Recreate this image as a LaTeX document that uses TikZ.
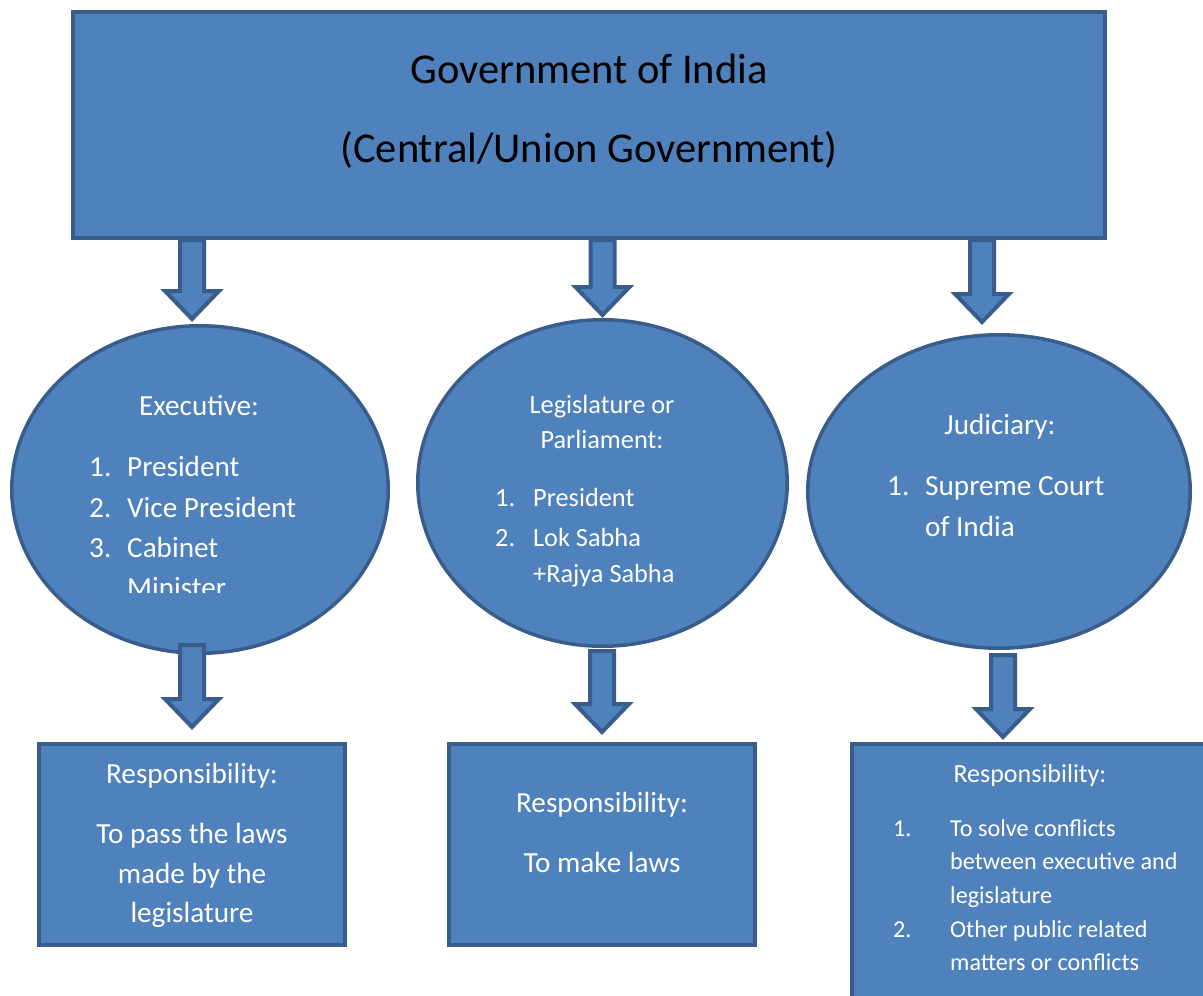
\documentclass[tikz,border=0pt]{standalone}
\usepackage{fontspec}
\setmainfont{Carlito}
\usetikzlibrary{shapes.geometric,calc}
\definecolor{Fill}{RGB}{79,129,189}
\definecolor{Edge}{RGB}{56,93,138}
\tikzset{
  panel/.style={draw=Edge,fill=Fill,line width=4pt,inner sep=0pt},
  oval/.style={ellipse,draw=Edge,fill=Fill,line width=3.5pt,inner sep=0pt},
  txt/.style={text=white,inner sep=0pt,anchor=base,font=\fontsize{#1}{#1}\selectfont},
  txt/.default=29.2,
  itm/.style={txt=#1,anchor=base west},
  itm/.default=29.2,
  shaft/.style={draw=Edge,fill=Fill,line width=4pt,line join=miter}
}
% fat down arrow: shaft from #1, tip at #2
\newcommand\blockarrow[2]{\draw[shaft] let \p1=#1, \p2=#2 in
  (\x1-12pt,\y1) -- (\x1-12pt,\y2+31pt) -- (\x1-27pt,\y2+31pt) -- (\x1,\y2+3pt)
  -- (\x1+27pt,\y2+31pt) -- (\x1+12pt,\y2+31pt) -- (\x1+12pt,\y1) -- cycle;}

\begin{document}
\begin{tikzpicture}[x=1pt,y=-1pt]
\useasboundingbox (0,0) rectangle (1203,996);
\fill[white] (0,0) rectangle (1203,996);
\clip (0,0) rectangle (1203,996);

% boxes
\node[panel,minimum width=1032pt,minimum height=226pt] (gov) at (589,125) {};
\node[panel,minimum width=306pt,minimum height=201pt] (execjob) at (192,844.5) {};
\node[panel,minimum width=306pt,minimum height=201pt] (legjob) at (602,844.5) {};
\node[panel,minimum width=360pt,minimum height=270pt] (judjob) at (1032,879) {};

% the three organs
\node[oval,minimum width=376.5pt,minimum height=327.5pt] (exec) at (200,489.5) {};
\node[oval,minimum width=369.5pt,minimum height=326.5pt] (leg) at (602.5,483) {};
\node[oval,minimum width=382.5pt,minimum height=313.5pt] (jud) at (999,491.5) {};

% arrows
\blockarrow{([xshift=-8pt]exec.north |- gov.south)}{([xshift=-8pt,yshift=2pt]exec.north)}
\blockarrow{(leg.north |- gov.south)}{(leg.north)}
\blockarrow{([xshift=-17pt]jud.north |- gov.south)}{([xshift=-17pt,yshift=8pt]jud.north)}
\blockarrow{([yshift=10pt]execjob.north |- exec.south)}{([yshift=12pt]execjob.north)}
\blockarrow{([yshift=-3pt]legjob.north |- leg.south)}{([yshift=7pt]legjob.north)}
\blockarrow{([xshift=-29pt,yshift=-5pt]judjob.north |- jud.south)}{([xshift=-29pt,yshift=2pt]judjob.north)}

% heading
\node[txt=42.5,text=black] (govA) at (589,83) {Government of India};
\node[txt=42.5,text=black] (govB) at (589,162) {(Central/Union Government)};

% executive
\node[txt] (execH) at (199,415) {Executive:};
\node[itm] (execA) at (89,476) {\makebox[38pt][l]{1.}President};
\node[itm] (execB) at (89,517) {\makebox[38pt][l]{2.}Vice President};
\node[itm] (execC) at (89,557) {\makebox[38pt][l]{3.}Cabinet};
\begin{scope}
\clip (0,560) rectangle (400,592);
\node[itm] (execD) at (127,597) {Minister};
\end{scope}

% legislature
\node[txt=26.3] (legH) at (602,413) {Legislature or};
\node[txt=26.3] (legI) at (602,448) {Parliament:};
\node[itm=26.3] (legA) at (495,506) {\makebox[38pt][l]{1.}President};
\node[itm=26.3] (legB) at (495,546) {\makebox[38pt][l]{2.}Lok Sabha};
\node[itm=26.3] (legC) at (533,582) {+Rajya Sabha};

% judiciary
\node[txt] (judH) at (1000,434) {Judiciary:};
\node[itm] (judA) at (887,495) {\makebox[38pt][l]{1.}Supreme Court};
\node[itm] (judB) at (925,536) {of India};

% responsibilities
\node[txt] (execR) at (192,783) {Responsibility:};
\node[txt] (execR1) at (192,843) {To pass the laws};
\node[txt] (execR2) at (192,883) {made by the};
\node[txt] (execR3) at (192,922) {legislature};

\node[txt] (legR) at (602,812) {Responsibility:};
\node[txt] (legR1) at (602,872) {To make laws};

\node[txt=26] (judR) at (1030,782) {Responsibility:};
\node[itm=24.2] (judR1) at (893,836) {\makebox[57pt][l]{1.}To solve conflicts};
\node[itm=24.2] (judR2) at (950,869) {between executive and};
\node[itm=24.2] (judR3) at (950,903) {legislature};
\node[itm=24.2] (judR4) at (893,937) {\makebox[57pt][l]{2.}Other public related};
\node[itm=24.2] (judR5) at (950,970) {matters or conflicts};
\end{tikzpicture}
\end{document}
